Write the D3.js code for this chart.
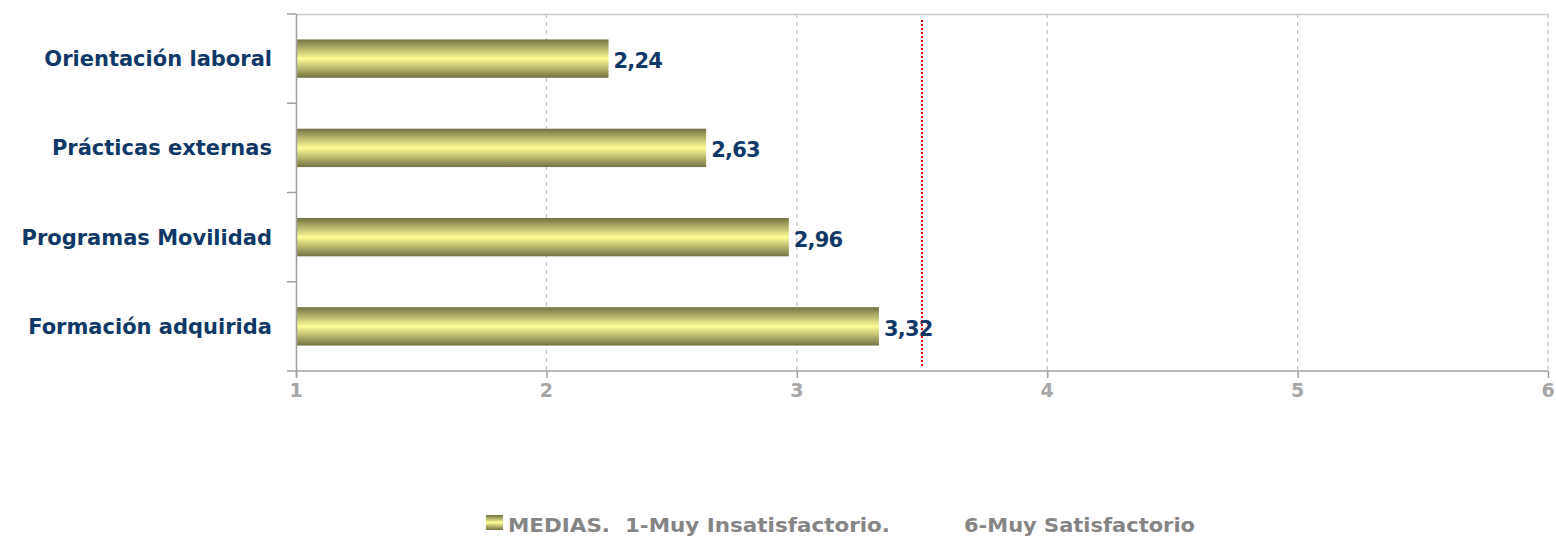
<!DOCTYPE html>
<html>
<head>
<meta charset="utf-8">
<script src="https://cdn.jsdelivr.net/npm/d3@7"></script>
<style>
  body { margin: 0; background: #fff; }
  text { font-family: "DejaVu Sans", sans-serif; font-weight: bold; }
</style>
</head>
<body>
<script>
// chart data
const categories = ["Orientación laboral", "Prácticas externas", "Programas Movilidad", "Formación adquirida"];
const medias = [2.24, 2.63, 2.96, 3.32];
const xTicks = [1, 2, 3, 4, 5, 6];
const referenceValue = 3.5;
const legendParts = ["MEDIAS.  1-Muy Insatisfactorio.", "6-Muy Satisfactorio"];

const width = 1556, height = 536;
const margin = { top: 14, right: 8, bottom: 165, left: 296 };

const svg = d3.select("body").append("svg")
  .attr("width", width)
  .attr("height", height);

// bar gradient
const grad = svg.append("defs").append("linearGradient")
  .attr("id", "barGrad")
  .attr("x1", 0).attr("y1", 0).attr("x2", 0).attr("y2", 1);
grad.append("stop").attr("offset", "0%").attr("stop-color", "#727142");
grad.append("stop").attr("offset", "50%").attr("stop-color", "#fdfd96");
grad.append("stop").attr("offset", "100%").attr("stop-color", "#727142");

const x = d3.scaleLinear().domain([1, 6]).range([margin.left, width - margin.right]);
const y = d3.scaleBand().domain(categories).range([margin.top, height - margin.bottom]).paddingInner(0.57).paddingOuter(0.285);
const yEdge = d3.scaleLinear().domain([0, categories.length]).range([margin.top, height - margin.bottom]);

// gridlines
svg.append("g").selectAll("line")
  .data(xTicks.slice(1))
  .join("line")
  .attr("x1", d => x(d)).attr("x2", d => x(d))
  .attr("y1", margin.top).attr("y2", height - margin.bottom)
  .attr("stroke", "#c4c4c4")
  .attr("stroke-width", 1.3)
  .attr("stroke-dasharray", "4,4");

// top border
svg.append("line")
  .attr("x1", margin.left).attr("x2", width - margin.right)
  .attr("y1", margin.top + 0.5).attr("y2", margin.top + 0.5)
  .attr("stroke", "#c8c8c8").attr("stroke-width", 1.5);

// bars
svg.append("g").selectAll("rect")
  .data(medias)
  .join("rect")
  .attr("x", x(1) + 1)
  .attr("y", (d, i) => y(categories[i]))
  .attr("width", d => x(d) - x(1) + 1)
  .attr("height", y.bandwidth())
  .attr("fill", "url(#barGrad)");

// reference line
svg.append("line")
  .attr("x1", x(referenceValue)).attr("x2", x(referenceValue))
  .attr("y1", margin.top + 6).attr("y2", height - margin.bottom - 4)
  .attr("stroke", "#e00000")
  .attr("stroke-width", 2)
  .attr("stroke-dasharray", "2,2");

// value labels
svg.append("g").selectAll("text")
  .data(medias)
  .join("text")
  .attr("x", d => x(d) + 7)
  .attr("y", (d, i) => y(categories[i]) + y.bandwidth() / 2 + 2)
  .attr("dy", "0.36em")
  .attr("fill", "#0f3868")
  .attr("font-size", 21)
  .attr("letter-spacing", -0.8)
  .text(d => d.toFixed(2).replace(".", ","));

// y axis
const ya = svg.append("g");
ya.append("line")
  .attr("x1", margin.left + 0.5).attr("x2", margin.left + 0.5)
  .attr("y1", margin.top).attr("y2", height - margin.bottom + 6)
  .attr("stroke", "#a0a0a0").attr("stroke-width", 1.5);
ya.selectAll(".tk")
  .data(d3.range(categories.length + 1))
  .join("line")
  .attr("x1", margin.left - 9).attr("x2", margin.left)
  .attr("y1", d => yEdge(d)).attr("y2", d => yEdge(d))
  .attr("stroke", "#a0a0a0").attr("stroke-width", 1.5);
ya.selectAll("text")
  .data(categories)
  .join("text")
  .attr("x", margin.left - 24)
  .attr("y", d => y(d) + y.bandwidth() / 2)
  .attr("dy", "0.36em")
  .attr("text-anchor", "end")
  .attr("fill", "#0f3868")
  .attr("font-size", 21)
  .text(d => d);

// x axis
const xa = svg.append("g");
xa.append("line")
  .attr("x1", margin.left).attr("x2", width - margin.right)
  .attr("y1", height - margin.bottom).attr("y2", height - margin.bottom)
  .attr("stroke", "#a0a0a0").attr("stroke-width", 1.5);
xa.selectAll(".tk")
  .data(xTicks)
  .join("line")
  .attr("x1", d => x(d) + 0.5).attr("x2", d => x(d) + 0.5)
  .attr("y1", height - margin.bottom).attr("y2", height - margin.bottom + 7)
  .attr("stroke", "#a0a0a0").attr("stroke-width", 1.5);
xa.selectAll("text")
  .data(xTicks)
  .join("text")
  .attr("x", d => x(d))
  .attr("y", height - margin.bottom + 26)
  .attr("text-anchor", "middle")
  .attr("fill", "#a6a6a6")
  .attr("font-size", 19)
  .text(d => d);

// legend
const lg = svg.append("g").attr("transform", "translate(486,515)");
lg.append("rect")
  .attr("width", 17).attr("height", 15)
  .attr("fill", "url(#barGrad)");
lg.selectAll("text")
  .data(legendParts)
  .join("text")
  .attr("x", (d, i) => i === 0 ? 22 : 478)
  .attr("y", 17)
  .attr("fill", "#858585")
  .attr("font-size", 20)
  .attr("textLength", (d, i) => i === 0 ? 382 : 231)
  .attr("lengthAdjust", "spacingAndGlyphs")
  .attr("xml:space", "preserve")
  .style("white-space", "pre")
  .text(d => d);
</script>
</body>
</html>
